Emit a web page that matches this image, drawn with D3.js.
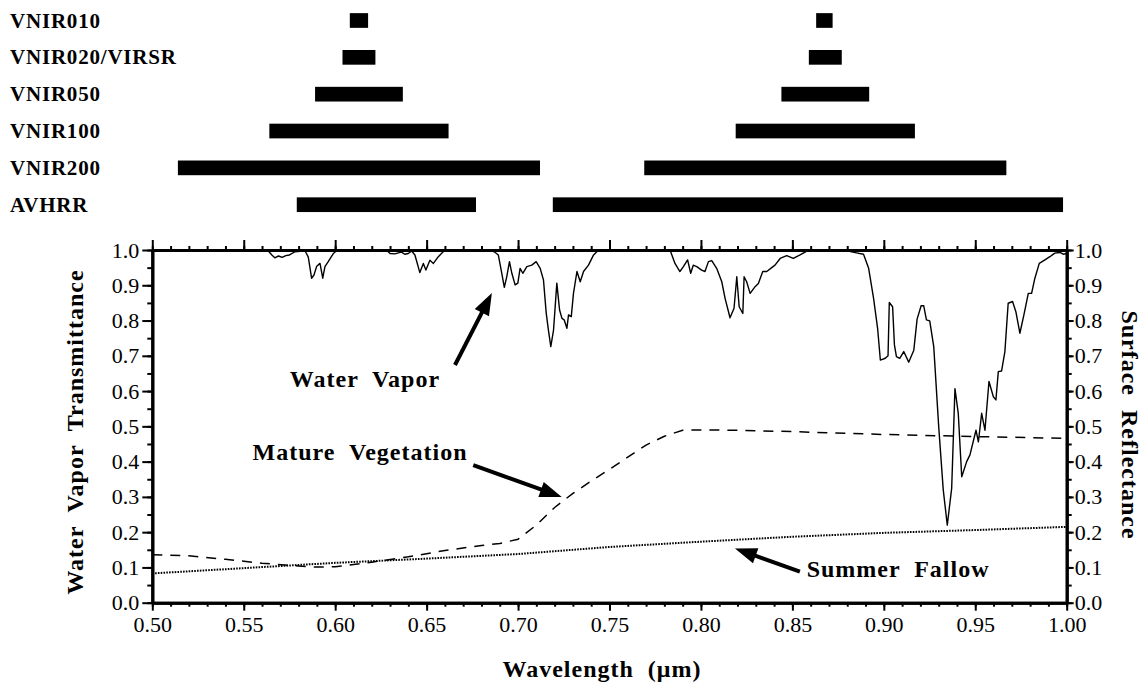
<!DOCTYPE html>
<html>
<head>
<meta charset="utf-8">
<script src="https://cdn.jsdelivr.net/npm/d3@7"></script>
<style>
  body { margin: 0; background: #fff; }
  text { font-family: "Liberation Serif", "Times New Roman", serif; fill: #000; white-space: pre; }
</style>
</head>
<body>
<div id="chart"></div>
<script>
/* DATA */
// sensor bands, wavelength ranges in micrometres (two windows per sensor)
const bandNames = ["VNIR010", "VNIR020/VIRSR", "VNIR050", "VNIR100", "VNIR200", "AVHRR"];
const bandRed = [[0.608, 0.618], [0.604, 0.622], [0.589, 0.637], [0.564, 0.662], [0.514, 0.712], [0.579, 0.677]];
const bandNir = [[0.863, 0.872], [0.859, 0.877], [0.844, 0.892], [0.819, 0.917], [0.769, 0.967], [0.719, 0.998]];

const xTicks = [0.50, 0.55, 0.60, 0.65, 0.70, 0.75, 0.80, 0.85, 0.90, 0.95, 1.00];
const yTicks = [0.0, 0.1, 0.2, 0.3, 0.4, 0.5, 0.6, 0.7, 0.8, 0.9, 1.0];

// [wavelength, transmittance]
const waterVapor = [
  [0.500, 1.0], [0.540, 1.0], [0.563, 1.0], [0.5655, 0.985], [0.567, 0.978], [0.569, 0.983], [0.571, 0.979],
  [0.573, 0.984], [0.575, 0.986], [0.578, 0.995], [0.5835, 0.998],
  [0.5853, 0.98], [0.5871, 0.92], [0.5884, 0.929], [0.5899, 0.954], [0.5917, 0.962], [0.5932, 0.92],
  [0.5944, 0.953], [0.5962, 0.967], [0.599, 0.99], [0.6012, 1.0],
  [0.628, 1.0], [0.630, 0.99], [0.6327, 0.989], [0.6345, 0.992], [0.6363, 0.994], [0.638, 0.988],
  [0.640, 0.99], [0.6418, 0.997],
  [0.6436, 0.986], [0.6463, 0.936], [0.6482, 0.962], [0.6496, 0.943], [0.6518, 0.971], [0.6537, 0.962],
  [0.6564, 0.981], [0.660, 1.0],
  [0.684, 1.0], [0.687, 0.995], [0.6892, 0.986], [0.6911, 0.934], [0.6925, 0.894], [0.6938, 0.924],
  [0.6953, 0.967], [0.6966, 0.934], [0.6984, 0.901], [0.6999, 0.906], [0.7011, 0.948], [0.7026, 0.934],
  [0.7048, 0.953], [0.7075, 0.957], [0.7099, 0.967], [0.7121, 0.948], [0.7139, 0.915], [0.7154, 0.821],
  [0.7166, 0.773], [0.7179, 0.726], [0.7194, 0.773], [0.7212, 0.906], [0.7227, 0.83], [0.724, 0.806],
  [0.7252, 0.802], [0.7267, 0.778], [0.7276, 0.816], [0.7291, 0.811], [0.7303, 0.877], [0.7322, 0.939],
  [0.734, 0.91], [0.7358, 0.939], [0.7385, 0.957], [0.7413, 0.986], [0.744, 1.0],
  [0.7831, 1.0], [0.7858, 0.962], [0.7885, 0.939], [0.7904, 0.953], [0.7927, 0.972], [0.7944, 0.934],
  [0.7958, 0.957], [0.7977, 0.953], [0.8004, 0.943], [0.8022, 0.939], [0.8041, 0.967], [0.8059, 0.970],
  [0.8086, 0.948], [0.8114, 0.910], [0.8132, 0.863], [0.8159, 0.808], [0.8181, 0.835], [0.8196, 0.924],
  [0.8209, 0.839], [0.8229, 0.820], [0.8236, 0.924], [0.825, 0.910], [0.8269, 0.877], [0.8296, 0.896],
  [0.8314, 0.905], [0.8338, 0.939], [0.836, 0.939], [0.8387, 0.950], [0.8405, 0.957], [0.8433, 0.976],
  [0.8469, 0.984], [0.8505, 0.976], [0.8542, 0.986], [0.8579, 0.997], [0.8597, 1.0],
  [0.878, 1.0], [0.885, 0.992], [0.8889, 0.988], [0.8917, 0.948], [0.8944, 0.863], [0.8966, 0.778],
  [0.8981, 0.688], [0.9008, 0.693], [0.9023, 0.700], [0.9030, 0.851], [0.9048, 0.839], [0.9058, 0.731],
  [0.9069, 0.698], [0.9087, 0.693], [0.9109, 0.712], [0.9136, 0.682], [0.9164, 0.716], [0.9182, 0.804],
  [0.9204, 0.842], [0.9218, 0.842], [0.9233, 0.802], [0.9251, 0.799], [0.9273, 0.726], [0.9300, 0.50],
  [0.9325, 0.320], [0.9347, 0.220], [0.9371, 0.324], [0.9389, 0.607], [0.9407, 0.537], [0.9426, 0.357],
  [0.9453, 0.400], [0.9471, 0.419], [0.9504, 0.489], [0.9517, 0.456], [0.9535, 0.537], [0.9553, 0.489],
  [0.9575, 0.627], [0.9599, 0.584], [0.9613, 0.575], [0.9626, 0.655], [0.9644, 0.657], [0.9662, 0.712],
  [0.968, 0.849], [0.9704, 0.854], [0.9722, 0.825], [0.9744, 0.764], [0.9766, 0.816], [0.979, 0.877],
  [0.9808, 0.877], [0.9826, 0.920], [0.985, 0.962], [0.9881, 0.972], [0.9908, 0.981], [0.9935, 0.991],
  [0.9963, 0.993], [0.9981, 0.988], [1.0, 0.99]
];

// [wavelength, surface reflectance]
const matureVeg = [
  [0.50, 0.136], [0.52, 0.133], [0.54, 0.123], [0.56, 0.112], [0.58, 0.104], [0.59, 0.101], [0.60, 0.102],
  [0.62, 0.115], [0.64, 0.13], [0.66, 0.148], [0.68, 0.162], [0.69, 0.168], [0.70, 0.18],
  [0.71, 0.22], [0.72, 0.27], [0.73, 0.31], [0.74, 0.345], [0.75, 0.378], [0.76, 0.413], [0.77, 0.447],
  [0.78, 0.472], [0.79, 0.489], [0.80, 0.49], [0.82, 0.489], [0.85, 0.485], [0.90, 0.477], [0.95, 0.471],
  [1.00, 0.466]
];

const summerFallow = [
  [0.50, 0.083], [0.55, 0.098], [0.60, 0.113], [0.65, 0.125], [0.70, 0.138], [0.75, 0.158],
  [0.80, 0.173], [0.85, 0.187], [0.90, 0.198], [0.95, 0.206], [1.00, 0.215]
];

// annotation labels and arrows, anchored in data units
const notes = [
  { text: "Water  Vapor", at: [0.6163, 0.612], anchor: "middle", from: [0.6655, 0.674], to: [0.6857, 0.878] },
  { text: "Mature  Vegetation", at: [0.6136, 0.405], anchor: "middle", from: [0.6755, 0.390], to: [0.7239, 0.300] },
  { text: "Summer  Fallow", at: [0.8578, 0.074], anchor: "start", from: [0.8541, 0.088], to: [0.8186, 0.154] }
];

/* LAYOUT */
const width = 1142;
const height = 684;
const margin = { top: 250, right: 75.3, bottom: 81.3, left: 152.3 };

const svg = d3.select("#chart")
  .append("svg")
  .attr("width", width)
  .attr("height", height);

svg.append("rect").attr("width", width).attr("height", height).attr("fill", "#fff");

/* SCALES */
const x = d3.scaleLinear()
  .domain([0.5, 1.0])
  .range([margin.left, width - margin.right]);

const y = d3.scaleLinear()
  .domain([0, 1])
  .range([height - margin.bottom, margin.top]);

const row = d3.scalePoint()
  .domain(bandNames)
  .range([20.5, 204.7]);

const barH = 14.7;

/* BANDS */
const bands = svg.append("g").attr("class", "bands");

bands.selectAll("text")
  .data(bandNames)
  .join("text")
  .attr("x", 10)
  .attr("y", d => row(d) + 7)
  .attr("font-size", 21)
  .attr("font-weight", "bold")
  .attr("letter-spacing", 0.8)
  .text(d => d);

const allBars = bandNames.flatMap((n, i) => [
  { name: n, r: bandRed[i] },
  { name: n, r: bandNir[i] }
]);

bands.selectAll("rect")
  .data(allBars)
  .join("rect")
  .attr("x", d => x(d.r[0]))
  .attr("width", d => x(d.r[1]) - x(d.r[0]))
  .attr("y", d => row(d.name) - barH / 2)
  .attr("height", barH)
  .attr("fill", "#000");

/* AXES */
const minorX = d3.range(50, 101).map(d => d / 100);
const minorY = d3.range(0, 21).map(d => d / 20);

function styleAxis(g) {
  g.select(".domain").attr("stroke-width", 3).attr("stroke", "#000");
  g.selectAll(".tick line").attr("stroke-width", 2).attr("stroke", "#000");
  g.selectAll(".tick text")
    .attr("font-size", 22)
    .attr("font-family", "Liberation Serif, serif")
    .attr("fill", "#000");
}

// minor ticks first
svg.append("g")
  .attr("transform", `translate(0,${height - margin.bottom})`)
  .call(d3.axisBottom(x).tickValues(minorX).tickFormat("").tickSize(4).tickSizeOuter(0))
  .call(styleAxis);
svg.append("g")
  .attr("transform", `translate(0,${margin.top})`)
  .call(d3.axisTop(x).tickValues(minorX).tickFormat("").tickSize(4).tickSizeOuter(0))
  .call(styleAxis);
svg.append("g")
  .attr("transform", `translate(${margin.left},0)`)
  .call(d3.axisLeft(y).tickValues(minorY).tickFormat("").tickSize(5).tickSizeOuter(0))
  .call(styleAxis);
svg.append("g")
  .attr("transform", `translate(${width - margin.right},0)`)
  .call(d3.axisRight(y).tickValues(minorY).tickFormat("").tickSize(5).tickSizeOuter(0))
  .call(styleAxis);

// major ticks
svg.append("g")
  .attr("transform", `translate(0,${height - margin.bottom})`)
  .call(d3.axisBottom(x).tickValues(xTicks).tickFormat(d3.format(".2f")).tickSize(8).tickPadding(6).tickSizeOuter(0))
  .call(styleAxis);
svg.append("g")
  .attr("transform", `translate(0,${margin.top})`)
  .call(d3.axisTop(x).tickValues(xTicks).tickFormat("").tickSize(10).tickSizeOuter(0))
  .call(styleAxis);
svg.append("g")
  .attr("transform", `translate(${margin.left},0)`)
  .call(d3.axisLeft(y).tickValues(yTicks).tickFormat(d3.format(".1f")).tickSize(10).tickPadding(3).tickSizeOuter(0))
  .call(styleAxis);
svg.append("g")
  .attr("transform", `translate(${width - margin.right},0)`)
  .call(d3.axisRight(y).tickValues(yTicks).tickFormat(d3.format(".1f")).tickSize(7).tickPadding(1).tickSizeOuter(0))
  .call(styleAxis);

/* AXIS TITLES */
svg.append("text")
  .attr("transform", `translate(83,432)rotate(-90)`)
  .attr("text-anchor", "middle")
  .attr("font-size", 24)
  .attr("font-weight", "bold")
  .attr("letter-spacing", 1)
  .text("Water  Vapor  Transmittance");

svg.append("text")
  .attr("transform", `translate(1122,425)rotate(90)`)
  .attr("text-anchor", "middle")
  .attr("font-size", 24)
  .attr("font-weight", "bold")
  .attr("letter-spacing", 1)
  .text("Surface  Reflectance");

svg.append("text")
  .attr("x", 602)
  .attr("y", 677)
  .attr("text-anchor", "middle")
  .attr("font-size", 24)
  .attr("font-weight", "bold")
  .attr("letter-spacing", 1)
  .text("Wavelength  (\u03bcm)");

/* LINES */
const line = d3.line()
  .x(d => x(d[0]))
  .y(d => y(d[1]));

svg.append("path")
  .datum(summerFallow)
  .attr("fill", "none")
  .attr("stroke", "#000")
  .attr("stroke-width", 2)
  .attr("stroke-dasharray", "1.6,1.2")
  .attr("d", line);

svg.append("path")
  .datum(matureVeg)
  .attr("fill", "none")
  .attr("stroke", "#000")
  .attr("stroke-width", 1.5)
  .attr("stroke-dasharray", "10,8")
  .attr("d", line);

svg.append("path")
  .datum(waterVapor)
  .attr("fill", "none")
  .attr("stroke", "#000")
  .attr("stroke-width", 1.4)
  .attr("stroke-linejoin", "round")
  .attr("d", line);

/* ANNOTATIONS */
const ann = svg.append("g").attr("class", "notes");

ann.selectAll("text")
  .data(notes)
  .join("text")
  .attr("x", d => x(d.at[0]))
  .attr("y", d => y(d.at[1]))
  .attr("text-anchor", d => d.anchor)
  .attr("font-size", 24)
  .attr("font-weight", "bold")
  .attr("letter-spacing", 1)
  .text(d => d.text);

notes.forEach(d => {
  const x0 = x(d.from[0]), y0 = y(d.from[1]);
  const x1 = x(d.to[0]), y1 = y(d.to[1]);
  const len = Math.hypot(x1 - x0, y1 - y0);
  const ux = (x1 - x0) / len, uy = (y1 - y0) / len;
  const headL = 22, headW = 8;
  const bx = x1 - ux * headL, by = y1 - uy * headL;
  ann.append("line")
    .attr("x1", x0).attr("y1", y0)
    .attr("x2", bx + ux * 2).attr("y2", by + uy * 2)
    .attr("stroke", "#000")
    .attr("stroke-width", 4);
  ann.append("path")
    .attr("d", `M${x1},${y1}L${bx - uy * headW},${by + ux * headW}L${bx + uy * headW},${by - ux * headW}Z`)
    .attr("fill", "#000");
});
</script>
</body>
</html>
